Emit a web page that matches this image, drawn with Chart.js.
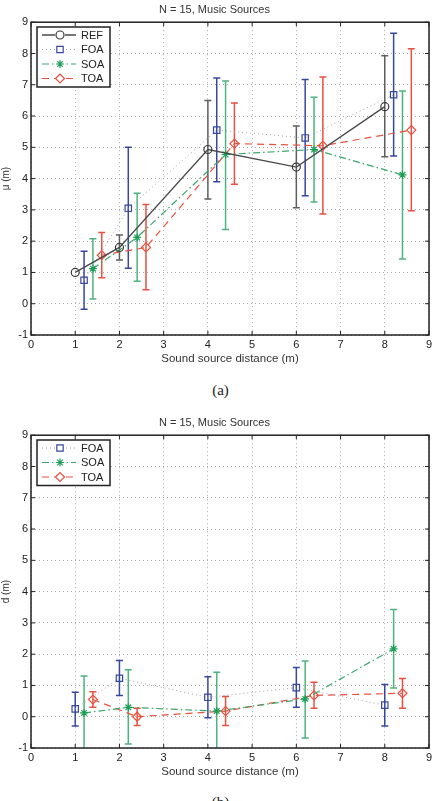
<!DOCTYPE html>
<html>
<head>
<meta charset="utf-8">
<script src="https://cdn.jsdelivr.net/npm/chart.js@4.4.1/dist/chart.umd.min.js"></script>
<style>
body{margin:0;background:#fff;width:437px;height:801px;overflow:hidden;position:relative;font-family:"Liberation Sans",Arial,sans-serif}
.box{position:absolute;left:0;width:437px;height:375px}
.cap{position:absolute;left:2px;width:437px;text-align:center;font-family:"Liberation Serif","Times New Roman",serif;font-size:15px;line-height:18px;color:#222}
</style>
</head>
<body>
<div class="box" style="top:0"><canvas id="chartA"></canvas></div>
<div class="cap" style="top:381px">(a)</div>
<div class="box" style="top:413px"><canvas id="chartB"></canvas></div>
<div class="cap" style="top:793px">(b)</div>
<script>
// chart (a): mean perceived distance
const refX = [1, 2, 4, 6, 8];
const refMean = [1.0, 1.8, 4.93, 4.37, 6.3];
const refLo = [null, 1.4, 3.35, 3.07, 4.7];
const refHi = [null, 2.2, 6.5, 5.68, 7.93];

const foaXA = [1.2, 2.2, 4.2, 6.2, 8.2];
const foaMean = [0.75, 3.05, 5.55, 5.3, 6.68];
const foaLo = [-0.18, 1.13, 3.9, 3.45, 4.72];
const foaHi = [1.68, 5.0, 7.22, 7.17, 8.65];

const soaXA = [1.4, 2.4, 4.4, 6.4, 8.4];
const soaMean = [1.12, 2.12, 4.77, 4.93, 4.12];
const soaLo = [0.15, 0.72, 2.37, 3.25, 1.43];
const soaHi = [2.08, 3.53, 7.12, 6.6, 6.8];

const toaXA = [1.6, 2.6, 4.6, 6.6, 8.6];
const toaMean = [1.55, 1.8, 5.12, 5.05, 5.55];
const toaLo = [0.83, 0.45, 3.82, 2.87, 2.97];
const toaHi = [2.28, 3.17, 6.42, 7.25, 8.15];

// chart (b): distance error d
const foaXB = [1, 2, 4, 6, 8];
const foaD = [0.25, 1.23, 0.62, 0.93, 0.37];
const foaDLo = [-0.3, 0.68, -0.03, 0.3, -0.3];
const foaDHi = [0.78, 1.8, 1.28, 1.57, 1.03];

const soaXB = [1.2, 2.2, 4.2, 6.2, 8.2];
const soaD = [0.12, 0.3, 0.18, 0.57, 2.17];
const soaDLo = [-1.06, -0.87, -1.06, -0.68, 0.92];
const soaDHi = [1.3, 1.5, 1.42, 1.78, 3.43];

const toaXB = [1.4, 2.4, 4.4, 6.4, 8.4];
const toaD = [0.55, 0.0, 0.18, 0.68, 0.75];
const toaDLo = [0.3, -0.28, -0.28, 0.27, 0.27];
const toaDHi = [0.8, 0.27, 0.65, 1.1, 1.22];

const xTicks = [0, 1, 2, 3, 4, 5, 6, 7, 8, 9];
const yTicks = [-1, 0, 1, 2, 3, 4, 5, 6, 7, 8, 9];

const FONT = '"Liberation Sans", Arial, sans-serif';

function pts(xs, ys){
    return xs.map((x, i) => ({x: x, y: ys[i]}));
}

const styles = {
    REF: {line:'#4a4a4a', dash:[], width:1.3, marker:'circle', r:4, mc:'#3c3c3c', bar:'#5e5e5e'},
    FOA: {line:'#a0a0aa', dash:[1,3], width:1, marker:'rect', r:4.5, mc:'#3747a0', bar:'#3747a0'},
    SOA: {line:'#3aa86a', dash:[7,3,1.5,3], width:1.2, marker:'star', r:4, mc:'#1f9e58', bar:'#4db37f'},
    TOA: {line:'#e8503f', dash:[7,5], width:1.2, marker:'rectRot', r:4.5, mc:'#e8503f', bar:'#e8503f'}
};

function makeSet(name, xs, ys, lo, hi){
    const s = styles[name];
    return {
        label:name,
        data:pts(xs, ys),
        lo:lo, hi:hi, barColor:s.bar,
        borderColor:s.line,
        borderDash:s.dash,
        borderWidth:s.width,
        tension:0,
        fill:false,
        pointStyle:s.marker,
        pointRadius:s.r,
        pointBorderColor:s.mc,
        pointBackgroundColor:'rgba(0,0,0,0)',
        pointBorderWidth:1.2
    };
}

// vertical error bars, drawn under the lines
const errorBars = {
    id:'errorBars',
    beforeDatasetsDraw(chart){
        const {ctx, chartArea:a, scales:{x, y}} = chart;
        ctx.save();
        ctx.beginPath();
        ctx.rect(a.left, a.top, a.right - a.left, a.bottom - a.top);
        ctx.clip();
        chart.data.datasets.forEach(ds => {
            if(!ds.lo) return;
            ctx.strokeStyle = ds.barColor;
            ctx.lineWidth = 1.5;
            ctx.setLineDash([]);
            ds.data.forEach((p, i) => {
                if(ds.lo[i] == null) return;
                const px = x.getPixelForValue(p.x);
                const y1 = y.getPixelForValue(ds.lo[i]);
                const y2 = y.getPixelForValue(ds.hi[i]);
                ctx.beginPath();
                ctx.moveTo(px, y1); ctx.lineTo(px, y2);
                ctx.moveTo(px - 3.5, y1); ctx.lineTo(px + 3.5, y1);
                ctx.moveTo(px - 3.5, y2); ctx.lineTo(px + 3.5, y2);
                ctx.stroke();
            });
        });
        ctx.restore();
    }
};

// axes box with inward ticks, plus the boxed legend
const frame = {
    id:'frame',
    afterDraw(chart){
        const {ctx, chartArea:a, scales:{x, y}} = chart;
        ctx.save();
        ctx.setLineDash([]);
        ctx.strokeStyle = '#222';
        ctx.lineWidth = 1.5;
        ctx.strokeRect(a.left, a.top, a.right - a.left, a.bottom - a.top);
        ctx.lineWidth = 1;
        ctx.beginPath();
        x.ticks.forEach(t => {
            const px = x.getPixelForValue(t.value);
            ctx.moveTo(px, a.bottom); ctx.lineTo(px, a.bottom - 4);
            ctx.moveTo(px, a.top); ctx.lineTo(px, a.top + 4);
        });
        y.ticks.forEach(t => {
            const py = y.getPixelForValue(t.value);
            ctx.moveTo(a.left, py); ctx.lineTo(a.left + 4, py);
            ctx.moveTo(a.right, py); ctx.lineTo(a.right - 4, py);
        });
        ctx.stroke();

        // legend
        const sets = chart.data.datasets;
        const lx = 37, ly = 27, rowH = 14.5, w = 73;
        const h = sets.length * rowH + 2;
        ctx.fillStyle = '#fff';
        ctx.fillRect(lx, ly, w, h);
        ctx.strokeStyle = '#222';
        ctx.lineWidth = 1.5;
        ctx.strokeRect(lx, ly, w, h);
        sets.forEach((ds, i) => {
            const cy = ly + 8 + i * rowH;
            ctx.strokeStyle = ds.borderColor;
            ctx.lineWidth = ds.borderWidth;
            ctx.setLineDash(ds.borderDash);
            ctx.beginPath();
            ctx.moveTo(lx + 5, cy); ctx.lineTo(lx + 39, cy);
            ctx.stroke();
            ctx.setLineDash([]);
            // clear a gap behind the open marker, then draw it unfilled
            ctx.fillStyle = '#fff';
            ctx.fillRect(lx + 18, cy - 5, 10, 10);
            ctx.strokeStyle = ds.pointBorderColor;
            ctx.lineWidth = ds.pointBorderWidth;
            ctx.fillStyle = 'rgba(0,0,0,0)';
            Chart.helpers.drawPoint(ctx, {pointStyle:ds.pointStyle, radius:ds.pointRadius, rotation:0, borderWidth:ds.pointBorderWidth}, lx + 23, cy);
            ctx.fillStyle = '#222';
            ctx.font = '11px ' + FONT;
            ctx.textBaseline = 'middle';
            ctx.fillText(ds.label, lx + 44, cy + 0.5);
        });
        ctx.restore();
    }
};

function makeOptions(yTitle){
    return {
        responsive:true,
        maintainAspectRatio:false,
        animation:false,
        layout:{padding:{left:0, right:8, top:0, bottom:0}},
        plugins:{
            legend:{display:false},
            tooltip:{enabled:false},
            title:{
                display:true,
                text:'N = 15, Music Sources',
                color:'#333',
                font:{family:FONT, size:11, weight:'normal'},
                padding:{top:3, bottom:6}
            }
        },
        scales:{
            x:{
                type:'linear', min:0, max:9,
                afterBuildTicks(s){ s.ticks = xTicks.map(v => ({value:v})); },
                afterFit(s){ s.height = 40; },
                ticks:{color:'#222', font:{family:FONT, size:11}, padding:3, maxRotation:0, autoSkip:false},
                grid:{color:'#a8a8a8', lineWidth:1, drawTicks:false},
                border:{display:false, dash:[1,3]},
                title:{display:true, text:'Sound source distance (m)', color:'#333', font:{family:FONT, size:11.5}, padding:{top:0, bottom:9}}
            },
            y:{
                type:'linear', min:-1, max:9,
                afterBuildTicks(s){ s.ticks = yTicks.map(v => ({value:v})); },
                afterFit(s){ s.width = 31; },
                ticks:{color:'#222', font:{family:FONT, size:11}, padding:3, autoSkip:false},
                grid:{color:'#a8a8a8', lineWidth:1, drawTicks:false},
                border:{display:false, dash:[1,3]},
                title:{display:true, text:yTitle, color:'#333', font:{family:FONT, size:10}, padding:{top:0, bottom:0}}
            }
        }
    };
}

document.addEventListener('DOMContentLoaded', () => {
    new Chart(document.getElementById('chartA').getContext('2d'), {
        type:'line',
        data:{datasets:[
            makeSet('REF', refX, refMean, refLo, refHi),
            makeSet('FOA', foaXA, foaMean, foaLo, foaHi),
            makeSet('SOA', soaXA, soaMean, soaLo, soaHi),
            makeSet('TOA', toaXA, toaMean, toaLo, toaHi)
        ]},
        options:makeOptions('μ (m)'),
        plugins:[errorBars, frame]
    });

    new Chart(document.getElementById('chartB').getContext('2d'), {
        type:'line',
        data:{datasets:[
            makeSet('FOA', foaXB, foaD, foaDLo, foaDHi),
            makeSet('SOA', soaXB, soaD, soaDLo, soaDHi),
            makeSet('TOA', toaXB, toaD, toaDLo, toaDHi)
        ]},
        options:makeOptions('d (m)'),
        plugins:[errorBars, frame]
    });
});
</script>
</body>
</html>
